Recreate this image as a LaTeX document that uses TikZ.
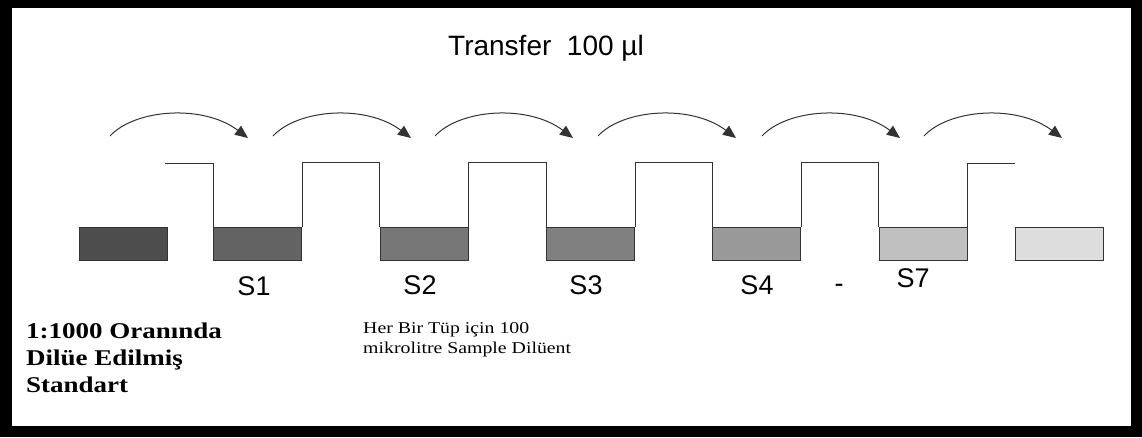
\documentclass[tikz,border=0pt]{standalone}
\usepackage{fontspec}
\setmainfont{Liberation Serif}
\newfontfamily\arialfont{Liberation Sans}
\usetikzlibrary{arrows.meta}
\definecolor{edge}{HTML}{333333}
\begin{document}
\begin{tikzpicture}[x=1pt,y=-1pt,
  tube/.style={draw=edge,line width=1pt,minimum width=88pt,minimum height=33pt,inner sep=0pt},
  wall/.style={draw=edge,line width=1pt},
  hop/.style={draw=edge,line width=1pt,-{Triangle[length=13pt,width=11pt]}},
  lbl/.style={font=\arialfont\fontsize{27}{27}\selectfont,anchor=base,inner sep=0pt},
  bold/.style={font=\bfseries\fontsize{22.5}{27}\selectfont,anchor=base west,inner sep=0pt},
  note/.style={font=\fontsize{16.5}{20}\selectfont,anchor=base west,inner sep=0pt}]
% frame
\fill[black] (0,0) rectangle (1142,437);
\fill[white] (12,8) rectangle (1131,426);
\useasboundingbox (0,0) rectangle (1142,437);

% title
\node[font=\arialfont\fontsize{28}{28}\selectfont,anchor=base west,inner sep=0pt] (title) at (448,55) {Transfer\ \ 100 µl};

% tubes
\node[tube,fill={rgb,255:red,77;green,77;blue,77}] (b0) at (123,243.5) {};
\node[tube,fill={rgb,255:red,99;green,99;blue,99}] (s1) at (257.5,243.5) {};
\node[tube,fill={rgb,255:red,119;green,119;blue,119}] (s2) at (424,243.5) {};
\node[tube,fill={rgb,255:red,128;green,128;blue,128}] (s3) at (590.5,243.5) {};
\node[tube,fill={rgb,255:red,153;green,153;blue,153}] (s4) at (756.5,243.5) {};
\node[tube,fill={rgb,255:red,192;green,192;blue,192}] (s7) at (923,243.5) {};
\node[tube,fill={rgb,255:red,221;green,221;blue,221}] (b8) at (1059.5,243.5) {};

% tube walls
\coordinate (w0) at (165,163);
\coordinate (w8) at (1015,163);
\draw[wall] (w0) -| (s1.north west);
\draw[wall] (s1.north east) -- ++(0,-64) -| (s2.north west);
\draw[wall] (s2.north east) -- ++(0,-64) -| (s3.north west);
\draw[wall] (s3.north east) -- ++(0,-64) -| (s4.north west);
\draw[wall] (s4.north east) -- ++(0,-64) -| (s7.north west);
\draw[wall] (s7.north east) |- (w8);

% transfer arrows
\foreach \i/\x in {0/110,1/273,2/435,3/598,4/762,5/924}{
  \coordinate (p\i) at (\x,136);
  \coordinate (q\i) at (\x+138,138);
  \draw[hop] (p\i) .. controls ++(25,-27) and ++(-45,-34) .. (q\i);
}

% tube labels
\node[lbl] (l1) at (254,295) {S1};
\node[lbl] (l2) at (420,294) {S2};
\node[lbl] (l3) at (586,294) {S3};
\node[lbl] (l4) at (757,294) {S4};
\node[lbl] (ld) at (839,292) {-};
\node[lbl] (l7) at (913,287) {S7};

% notes
\node[bold] (n1) at (26,338) {\scalebox{1.2}[1]{1:1000 Oranında}};
\node[bold] (n2) at (26,365) {\scalebox{1.2}[1]{Dilüe Edilmiş}};
\node[bold] (n3) at (26,392) {\scalebox{1.2}[1]{Standart}};
\node[note] (m1) at (363,333) {\scalebox{1.2}[1]{Her Bir Tüp için 100}};
\node[note] (m2) at (363,353) {\scalebox{1.2}[1]{mikrolitre Sample Dilüent}};
\end{tikzpicture}
\end{document}
